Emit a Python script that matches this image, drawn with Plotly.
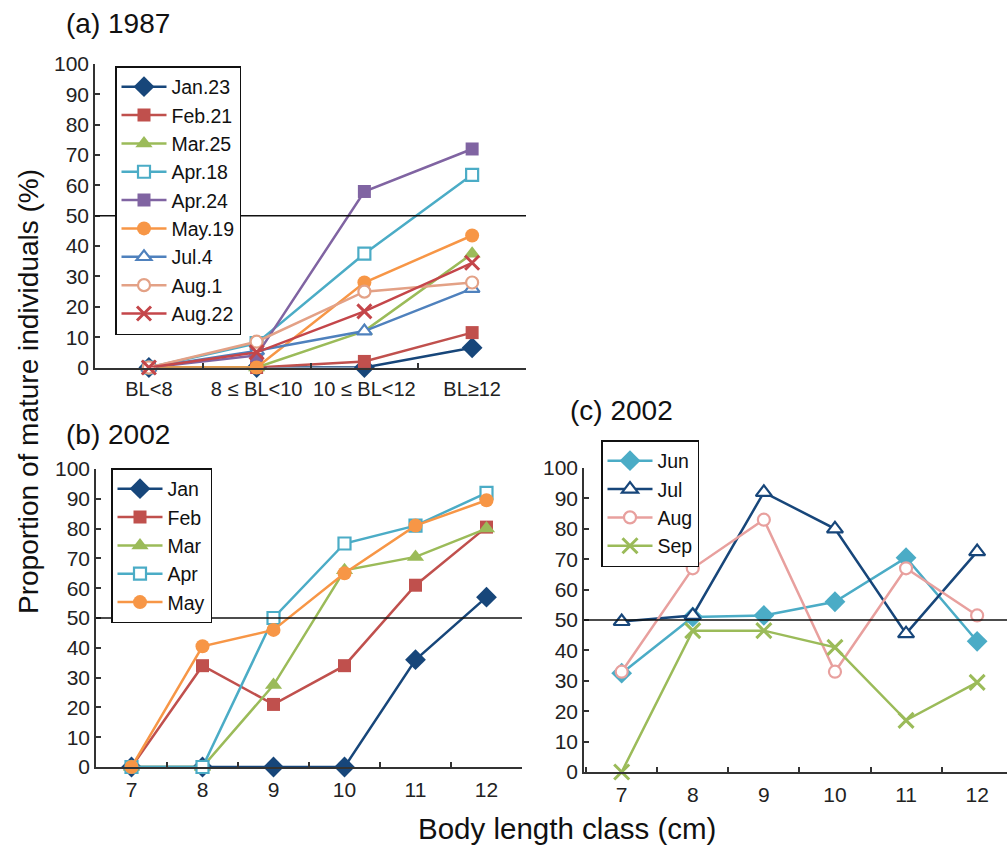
import plotly.graph_objects as go

# ---------------- data ----------------
cats_a = ["BL<8", "8 ≤ BL<10", "10 ≤ BL<12", "BL≥12"]
names_a = ["Jan.23", "Feb.21", "Mar.25", "Apr.18", "Apr.24", "May.19", "Jul.4", "Aug.1", "Aug.22"]
jan23 = [0, 0, 0, 6.5]
feb21 = [0, 0, 2, 11.5]
mar25 = [0, 0, 12, 37.5]
apr18 = [0, 8, 37.5, 63.5]
apr24 = [0, 4, 58, 72]
may19 = [0, 0, 28, 43.5]
jul4 = [0, 5.5, 12, 26]
aug1 = [0, 8.5, 25, 28]
aug22 = [0, 5, 18.5, 34.5]

cats_bc = ["7", "8", "9", "10", "11", "12"]
names_b = ["Jan", "Feb", "Mar", "Apr", "May"]
b_jan = [0, 0, 0, 0, 36, 57]
b_feb = [0, 34, 21, 34, 61, 80.5]
b_mar = [0, 0, 27.5, 66, 70.5, 80]
b_apr = [0, 0, 50, 75, 81, 92]
b_may = [0, 40.5, 46, 65, 81, 89.5]

names_c = ["Jun", "Jul", "Aug", "Sep"]
c_jun = [32.5, 51, 51.5, 56, 70.5, 43]
c_jul = [49.5, 51.5, 92, 80, 45.5, 72.5]
c_aug = [33, 67, 83, 33, 67, 51.5]
c_sep = [0, 46.5, 46.5, 41, 17, 29.5]

threshold = 50
yticks = list(range(0, 101, 10))

# ---------------- styles ----------------
DBLUE = "#17467a"
RED = "#c0504d"
GREEN = "#9bbb59"
CYAN = "#4bacc6"
PURPLE = "#8064a2"
ORANGE = "#f79646"
BLUE = "#4f81bd"
PEACH = "#e3a186"
DRED = "#c4464a"
PINK = "#e8a09e"

W, H = 1007, 845
FONT = "Liberation Sans, Arial, sans-serif"


def mk(symbol, color, size, open_=False):
    if symbol == "x-thin":
        return dict(symbol="x-thin", size=size, color=color, line=dict(color=color, width=3))
    if open_:
        return dict(symbol=symbol, size=size, color="white", line=dict(color=color, width=2.2))
    return dict(symbol=symbol, size=size, color=color, line=dict(width=0))


fig = go.Figure()

series_a = [
    (jan23, DBLUE, mk("diamond", DBLUE, 16)),
    (feb21, RED, mk("square", RED, 13)),
    (mar25, GREEN, mk("triangle-up", GREEN, 15)),
    (apr18, CYAN, mk("square", CYAN, 12, True)),
    (apr24, PURPLE, mk("square", PURPLE, 13)),
    (may19, ORANGE, mk("circle", ORANGE, 14)),
    (jul4, BLUE, mk("triangle-up", BLUE, 13, True)),
    (aug1, PEACH, mk("circle", PEACH, 12, True)),
    (aug22, DRED, mk("x-thin", DRED, 14)),
]
for nm, (vals, col, m) in zip(names_a, series_a):
    fig.add_trace(go.Scatter(x=cats_a, y=vals, name=nm, mode="lines+markers",
                             line=dict(color=col, width=2.5), marker=m,
                             xaxis="x", yaxis="y", legend="legend", cliponaxis=False))

series_b = [
    (b_jan, DBLUE, mk("diamond", DBLUE, 16)),
    (b_feb, RED, mk("square", RED, 13)),
    (b_mar, GREEN, mk("triangle-up", GREEN, 15)),
    (b_apr, CYAN, mk("square", CYAN, 12, True)),
    (b_may, ORANGE, mk("circle", ORANGE, 14)),
]
for nm, (vals, col, m) in zip(names_b, series_b):
    fig.add_trace(go.Scatter(x=cats_bc, y=vals, name=nm, mode="lines+markers",
                             line=dict(color=col, width=2.5), marker=m,
                             xaxis="x2", yaxis="y2", legend="legend2", cliponaxis=False))

series_c = [
    (c_jun, CYAN, mk("diamond", CYAN, 16)),
    (c_jul, DBLUE, mk("triangle-up", DBLUE, 14, True)),
    (c_aug, PINK, mk("circle", PINK, 12, True)),
    (c_sep, GREEN, mk("x-thin", GREEN, 15)),
]
for nm, (vals, col, m) in zip(names_c, series_c):
    fig.add_trace(go.Scatter(x=cats_bc, y=vals, name=nm, mode="lines+markers",
                             line=dict(color=col, width=2.5), marker=m,
                             xaxis="x3", yaxis="y3", legend="legend3", cliponaxis=False))


def px_x(p):
    return p / W


def px_y(p):
    return 1 - p / H


axcol = "#333333"
tickfont = dict(family=FONT, size=21, color="#222222")


def xax(dom, anchor, rng, fsize=21):
    return dict(domain=[px_x(dom[0]), px_x(dom[1])], anchor=anchor, type="category",
                range=rng, showline=True, linecolor=axcol, linewidth=1.5,
                ticks="inside", ticklen=5, tickwidth=1.5, tickcolor=axcol,
                tickson="boundaries", showgrid=False, zeroline=False, automargin=False,
                tickangle=0, tickfont=dict(tickfont, size=fsize), ticklabelstandoff=3,
                fixedrange=True)


def yax(dom, anchor):
    return dict(domain=[px_y(dom[1]), px_y(dom[0])], anchor=anchor, range=[0, 100],
                tickvals=yticks, showline=True, linecolor=axcol, linewidth=1.5,
                ticks="inside", ticklen=5, tickwidth=1.5, tickcolor=axcol, automargin=False,
                showgrid=False, zeroline=False, tickfont=tickfont, fixedrange=True)


legfont = dict(family=FONT, size=19.5, color="#111111")


def leg(x, y, ew):
    return dict(x=px_x(x), y=px_y(y), xanchor="left", yanchor="top",
                bordercolor="#111111", borderwidth=1.5, bgcolor="white",
                font=legfont, itemwidth=45, tracegroupgap=0,
                entrywidth=ew, entrywidthmode="pixels")


fig.update_layout(
    width=W, height=H, margin=dict(l=0, r=0, t=0, b=0, autoexpand=False),
    paper_bgcolor="white", plot_bgcolor="white",
    font=dict(family=FONT, color="#111111"),
    xaxis=xax((95, 526), "y", [-0.5, 3.5], fsize=20),
    yaxis=yax((64, 367.5), "x"),
    xaxis2=xax((96, 522), "y2", [-0.5, 5.5]),
    yaxis2=yax((469, 767), "x2"),
    xaxis3=xax((584, 1007), "y3", [-0.53, 5.42]),
    yaxis3=yax((468, 772), "x3"),
    legend=leg(115, 66, 80),
    legend2=leg(111, 468, 55),
    legend3=leg(601, 440, 50),
    showlegend=True,
)

for xr, yr in (("x", "y"), ("x2", "y2"), ("x3", "y3")):
    fig.add_shape(type="line", xref=f"{xr} domain", yref=yr, x0=0, x1=1,
                  y0=threshold, y1=threshold, line=dict(color="#111111", width=1.4))

titlefont = dict(family=FONT, size=28, color="#111111")
anns = [
    dict(text="(a) 1987", x=px_x(64), y=px_y(24), xanchor="left", yanchor="middle"),
    dict(text="(b) 2002", x=px_x(64), y=px_y(434), xanchor="left", yanchor="middle"),
    dict(text="(c) 2002", x=px_x(568), y=px_y(410), xanchor="left", yanchor="middle"),
]
for a in anns:
    fig.add_annotation(xref="paper", yref="paper", showarrow=False, font=titlefont, **a)

fig.add_annotation(text="Body length class (cm)", xref="paper", yref="paper",
                   x=px_x(567), y=px_y(828), xanchor="center", yanchor="middle",
                   showarrow=False, font=dict(family=FONT, size=29.5, color="#111111"))
fig.add_annotation(text="Proportion of mature individuals (%)", xref="paper", yref="paper",
                   x=px_x(28), y=px_y(392), xanchor="center", yanchor="middle", textangle=-90,
                   showarrow=False, font=dict(family=FONT, size=28, color="#111111"))

fig.write_html("out.html", config={"displayModeBar": False},
               post_script="document.body.style.margin='0';document.body.style.overflow='hidden';")
